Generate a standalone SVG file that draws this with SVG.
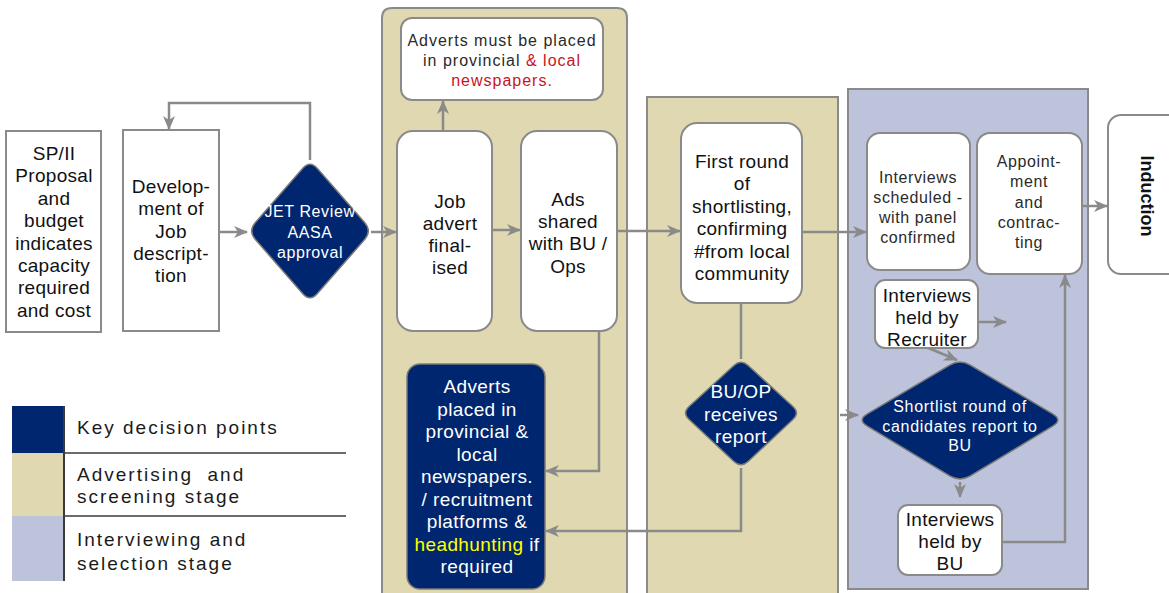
<svg xmlns="http://www.w3.org/2000/svg" width="1169" height="593" viewBox="0 0 1169 593">
  <style>
    .panel-tan { fill: #e0d8b1; stroke: #8a8a8a; stroke-width: 2; }
    .panel-lav { fill: #bec3dc; stroke: #8a8a8a; stroke-width: 2; }
    .box { fill: #ffffff; stroke: #8a8a8a; stroke-width: 2; }
    .navy { fill: #00266f; stroke: #7a7a7a; stroke-width: 1.5; }
    .conn { fill: none; stroke: #8a8a8a; stroke-width: 2.5; }
    .t { font-family: "Liberation Sans", Arial, sans-serif; font-size: 19px; fill: #111; text-anchor: middle; letter-spacing: 0.3px; }
    .tw { font-family: "Liberation Sans", Arial, sans-serif; font-size: 19px; fill: #ffffff; text-anchor: middle; letter-spacing: 0.4px; }
    .ts { font-family: "Liberation Sans", Arial, sans-serif; font-size: 16px; fill: #2a2a2a; text-anchor: middle; letter-spacing: 0.6px; }
    .tsw { font-family: "Liberation Sans", Arial, sans-serif; font-size: 16px; fill: #ffffff; text-anchor: middle; letter-spacing: 0.6px; }
    .leg { font-family: "Liberation Sans", Arial, sans-serif; font-size: 19px; fill: #1a1a1a; letter-spacing: 2px; white-space: pre; }
    .red { fill: #c8141e; }
    .yel { fill: #ffff00; }
  </style>
  <defs>
    <marker id="arrow" markerUnits="userSpaceOnUse" markerWidth="14" markerHeight="12" refX="13" refY="6" orient="auto">
      <path d="M0,0 L14,6 L0,12 L4,6 Z" fill="#8a8a8a"/>
    </marker>
  </defs>

  <rect width="1169" height="593" fill="#ffffff"/>

  <!-- stage panels -->
  <g id="stage-advertising">
    <path class="panel-tan" d="M382,600 V18 Q382,8 392,8 H617 Q627,8 627,18 V600"/>
    <rect class="panel-tan" x="647" y="97" width="191" height="510"/>
  </g>
  <g id="stage-interviewing">
    <rect class="panel-lav" x="848" y="89" width="240" height="500"/>
  </g>

  <!-- connectors -->
  <g id="connectors">
    <path class="conn" d="M310,160 V103 H169 V129" marker-end="url(#arrow)"/>
    <path class="conn" d="M219,232 H247" marker-end="url(#arrow)"/>
    <path class="conn" d="M371,232 H396" marker-end="url(#arrow)"/>
    <path class="conn" d="M443,131 V101" marker-end="url(#arrow)"/>
    <path class="conn" d="M492,230 H520" marker-end="url(#arrow)"/>
    <path class="conn" d="M617,231 H680" marker-end="url(#arrow)"/>
    <path class="conn" d="M802,232 H866" marker-end="url(#arrow)"/>
    <path class="conn" d="M1082,206 H1107" marker-end="url(#arrow)"/>
    <path class="conn" d="M978,322 H1006" marker-end="url(#arrow)"/>
    <path class="conn" d="M926,347 L957,360" marker-end="url(#arrow)"/>
    <path class="conn" d="M840,415 H858" marker-end="url(#arrow)"/>
    <path class="conn" d="M960,482 V497" marker-end="url(#arrow)"/>
    <path class="conn" d="M1002,542 H1065 V275" marker-end="url(#arrow)"/>
    <path class="conn" d="M741,303 V359"/>
    <path class="conn" d="M741,468 V531 H546" marker-end="url(#arrow)"/>
    <path class="conn" d="M599,331 V471 H546" marker-end="url(#arrow)"/>
  </g>

  <!-- nodes -->
  <g id="proposal">
    <rect class="box" x="6" y="131" width="95" height="201"/>
    <text class="t"><tspan x="54" y="160">SP/II</tspan><tspan x="54" y="182.4">Proposal</tspan><tspan x="54" y="204.8">and</tspan><tspan x="54" y="227.2">budget</tspan><tspan x="54" y="249.6">indicates</tspan><tspan x="54" y="272">capacity</tspan><tspan x="54" y="294.4">required</tspan><tspan x="54" y="316.8">and cost</tspan></text>
  </g>

  <g id="job-description">
    <rect class="box" x="123" y="130" width="96" height="201"/>
    <text class="t"><tspan x="171" y="193">Develop-</tspan><tspan x="171" y="215.3">ment of</tspan><tspan x="171" y="237.6">Job</tspan><tspan x="171" y="259.9">descript-</tspan><tspan x="171" y="282.2">tion</tspan></text>
  </g>

  <g id="jet-review">
    <path class="navy" d="M317.4,168.5 L364.6,222.5 Q372,231 364.6,239.5 L317.4,293.5 Q310,302 302.6,293.5 L255.4,239.5 Q248,231 255.4,222.5 L302.6,168.5 Q310,160 317.4,168.5 Z"/>
    <text class="tsw"><tspan x="310" y="217">JET Review</tspan><tspan x="310" y="237.5">AASA</tspan><tspan x="310" y="258">approval</tspan></text>
  </g>

  <g id="advert-note">
    <rect class="box" x="401" y="18" width="202" height="82" rx="11"/>
    <text class="ts" style="letter-spacing:1px"><tspan x="502" y="46">Adverts must be placed</tspan><tspan x="502" y="66">in provincial <tspan class="red">&amp; local</tspan></tspan><tspan x="502" y="86" class="red">newspapers.</tspan></text>
  </g>

  <g id="job-advert">
    <rect class="box" x="397" y="131" width="95" height="200" rx="16"/>
    <text class="t"><tspan x="450" y="208">Job</tspan><tspan x="450" y="230">advert</tspan><tspan x="450" y="252">final-</tspan><tspan x="450" y="274">ised</tspan></text>
  </g>

  <g id="ads-shared">
    <rect class="box" x="521" y="131" width="96" height="200" rx="16"/>
    <text class="t"><tspan x="568" y="206">Ads</tspan><tspan x="568" y="228">shared</tspan><tspan x="568" y="250">with BU /</tspan><tspan x="568" y="273">Ops</tspan></text>
  </g>

  <g id="adverts-placed">
    <rect class="navy" x="407" y="364" width="138" height="225" rx="13"/>
    <text class="tw"><tspan x="477" y="393">Adverts</tspan><tspan x="477" y="415.5">placed in</tspan><tspan x="477" y="438">provincial &amp;</tspan><tspan x="477" y="460.5">local</tspan><tspan x="477" y="483">newspapers.</tspan><tspan x="477" y="505.5">/ recruitment</tspan><tspan x="477" y="528">platforms &amp;</tspan><tspan x="477" y="550.5"><tspan class="yel">headhunting</tspan> if</tspan><tspan x="477" y="573">required</tspan></text>
  </g>

  <g id="first-shortlist">
    <rect class="box" x="681" y="123" width="121" height="180" rx="16"/>
    <text class="t"><tspan x="742" y="168">First round</tspan><tspan x="742" y="190.4">of</tspan><tspan x="742" y="212.8">shortlisting,</tspan><tspan x="742" y="235.2">confirming</tspan><tspan x="742" y="257.6">#from local</tspan><tspan x="742" y="280">community</tspan></text>
  </g>

  <g id="bu-op-report">
    <path class="navy" d="M748.1,365.5 L792.9,406.5 Q800,413 792.9,419.5 L748.1,461.5 Q741,468 733.9,461.5 L689.1,419.5 Q682,413 689.1,406.5 L733.9,365.5 Q741,359 748.1,365.5 Z"/>
    <text class="tw"><tspan x="741" y="398">BU/OP</tspan><tspan x="741" y="421">receives</tspan><tspan x="741" y="443">report</tspan></text>
  </g>

  <g id="interviews-scheduled">
    <rect class="box" x="867" y="133" width="103" height="137" rx="13"/>
    <text class="ts"><tspan x="918" y="183">Interviews</tspan><tspan x="918" y="203">scheduled -</tspan><tspan x="918" y="223">with panel</tspan><tspan x="918" y="243">confirmed</tspan></text>
  </g>

  <g id="appointment">
    <rect class="box" x="977" y="133" width="105" height="141" rx="13"/>
    <text class="ts"><tspan x="1029" y="167">Appoint-</tspan><tspan x="1029" y="187">ment</tspan><tspan x="1029" y="207.5">and</tspan><tspan x="1029" y="228">contrac-</tspan><tspan x="1029" y="248">ting</tspan></text>
  </g>

  <g id="induction">
    <rect class="box" x="1108" y="115" width="75" height="159" rx="13"/>
    <text class="t" transform="translate(1141,196) rotate(90)" style="font-weight:bold;font-size:18px;letter-spacing:0">Induction</text>
  </g>

  <g id="interviews-recruiter">
    <rect class="box" x="875" y="280" width="103" height="68" rx="10"/>
    <text class="t"><tspan x="927" y="302">Interviews</tspan><tspan x="927" y="324">held by</tspan><tspan x="927" y="346">Recruiter</tspan></text>
  </g>

  <g id="shortlist-report">
    <path class="navy" d="M970.3,365.1 L1052.7,413.9 Q1063,420 1052.7,426.1 L970.3,475.9 Q960,482 949.7,475.9 L867.3,426.1 Q857,420 867.3,413.9 L949.7,365.1 Q960,359 970.3,365.1 Z"/>
    <text class="tsw" style="letter-spacing:0.7px"><tspan x="960" y="412">Shortlist round of</tspan><tspan x="960" y="432">candidates report to</tspan><tspan x="960" y="451">BU</tspan></text>
  </g>

  <g id="interviews-bu">
    <rect class="box" x="898" y="505" width="104" height="70" rx="10"/>
    <text class="t"><tspan x="950" y="526">Interviews</tspan><tspan x="950" y="548">held by</tspan><tspan x="950" y="570">BU</tspan></text>
  </g>

  <!-- key -->
  <g id="legend">
    <rect x="12" y="406" width="52" height="47" fill="#00266f"/>
    <rect x="12" y="453" width="52" height="63" fill="#e0d8b1"/>
    <rect x="12" y="516" width="52" height="65" fill="#bec3dc"/>
    <line x1="64" y1="406" x2="64" y2="581" stroke="#3a3a3a" stroke-width="2"/>
    <line x1="64" y1="453" x2="346" y2="453" stroke="#3a3a3a" stroke-width="1.5"/>
    <line x1="64" y1="516" x2="346" y2="516" stroke="#3a3a3a" stroke-width="1.5"/>
    <text class="leg" x="77" y="434">Key decision points</text>
    <text class="leg"><tspan x="77" y="481">Advertising  and</tspan><tspan x="77" y="503">screening stage</tspan></text>
    <text class="leg"><tspan x="77" y="546">Interviewing and</tspan><tspan x="77" y="570">selection stage</tspan></text>
  </g>
</svg>
